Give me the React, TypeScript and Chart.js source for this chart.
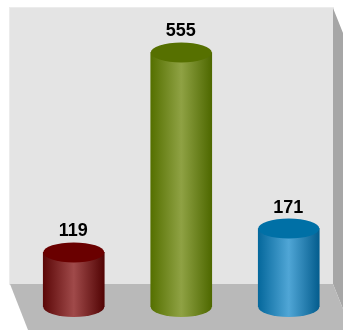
import React, { useEffect, useRef } from "react";
import { Chart, registerables } from "chart.js";

Chart.register(...registerables);

const categories = ["A", "B", "C"];
const values = [119, 555, 171];
const topColors = ["#6a0000", "#567000", "#0070a6"];
const edgeColors = ["#5c0808", "#557000", "#05689c"];
const farEdgeColors = ["#520404", "#4e6800", "#045d8e"];
const midColors = ["#a04a4a", "#8fa244", "#50a6d6"];

const ELLIPSE_RY = 10;

function sideGradient(ctx: CanvasRenderingContext2D, x: number, w: number, i: number) {
  const g = ctx.createLinearGradient(x - w / 2, 0, x + w / 2, 0);
  g.addColorStop(0, edgeColors[i]);
  g.addColorStop(0.5, midColors[i]);
  g.addColorStop(1, farEdgeColors[i]);
  return g;
}

const scenePlugin = {
  id: "scene",
  beforeDraw(chart: any) {
    const { ctx } = chart;
    const wl = 10, wr = 333, wt = 8, wb = 284, W = 343, H = 330;
    ctx.save();
    ctx.fillStyle = "#e4e4e4";
    ctx.fillRect(wl, wt, wr - wl, wb - wt);
    ctx.strokeStyle = "#ececec";
    ctx.lineWidth = 1;
    ctx.strokeRect(wl - 0.5, wt - 0.5, wr - wl + 1, wb - wt + 1);
    ctx.fillStyle = "#a6a6a6";
    ctx.beginPath();
    ctx.moveTo(wr, wt);
    ctx.lineTo(W, wt + 25);
    ctx.lineTo(W, wb + 25);
    ctx.lineTo(wr, wb);
    ctx.closePath();
    ctx.fill();
    ctx.fillStyle = "#b9b9b9";
    ctx.beginPath();
    ctx.moveTo(wl, wb);
    ctx.lineTo(wr, wb);
    ctx.lineTo(W, wb + 25);
    ctx.lineTo(W, H);
    ctx.lineTo(28, H);
    ctx.closePath();
    ctx.fill();
    ctx.restore();
  },
  beforeDatasetsDraw(chart: any) {
    const { ctx } = chart;
    chart.getDatasetMeta(0).data.forEach((bar: any, i: number) => {
      const w = bar.width;
      ctx.save();
      ctx.fillStyle = sideGradient(ctx, bar.x, w, i);
      ctx.beginPath();
      ctx.ellipse(bar.x, bar.base, w / 2, ELLIPSE_RY, 0, 0, Math.PI * 2);
      ctx.fill();
      ctx.restore();
    });
  },
  afterDatasetsDraw(chart: any) {
    const { ctx } = chart;
    chart.getDatasetMeta(0).data.forEach((bar: any, i: number) => {
      const w = bar.width;
      ctx.save();
      ctx.fillStyle = topColors[i];
      ctx.beginPath();
      ctx.ellipse(bar.x, bar.y, w / 2, ELLIPSE_RY, 0, 0, Math.PI * 2);
      ctx.fill();
      ctx.fillStyle = "#000000";
      ctx.font = "bold 18px 'Liberation Sans'";
      ctx.textAlign = "center";
      ctx.textBaseline = "alphabetic";
      ctx.fillText(String(values[i]), bar.x - 0.5, bar.y - 16);
      ctx.restore();
    });
  },
};

export default function App() {
  const ref = useRef<HTMLCanvasElement>(null);
  useEffect(() => {
    const chart = new Chart(ref.current!, {
      type: "bar",
      data: {
        labels: categories,
        datasets: [
          {
            data: values,
            barThickness: 61,
            borderWidth: 0,
            backgroundColor: (c: any) => {
              const el = c.chart.getDatasetMeta(0).data[c.dataIndex];
              const area = c.chart.chartArea;
              if (!area) return edgeColors[c.dataIndex];
              const step = (area.right - area.left) / categories.length;
              const x = el && el.x ? el.x : area.left + step * (c.dataIndex + 0.5);
              return sideGradient(c.chart.ctx, x, 61, c.dataIndex);
            },
          },
        ],
      },
      options: {
        responsive: false,
        animation: false,
        layout: { padding: { left: 20, right: 0.5, top: 8, bottom: 23 } },
        plugins: { legend: { display: false }, tooltip: { enabled: false } },
        scales: {
          x: { display: false },
          y: { display: false, min: 0, max: 652 },
        },
      },
      plugins: [scenePlugin],
    });
    return () => chart.destroy();
  }, []);
  return (
    <div style={{ position: "absolute", left: 0, top: 0, width: 343, height: 330 }}>
      <canvas ref={ref} width={343} height={330} style={{ display: "block" }} />
    </div>
  );
}
